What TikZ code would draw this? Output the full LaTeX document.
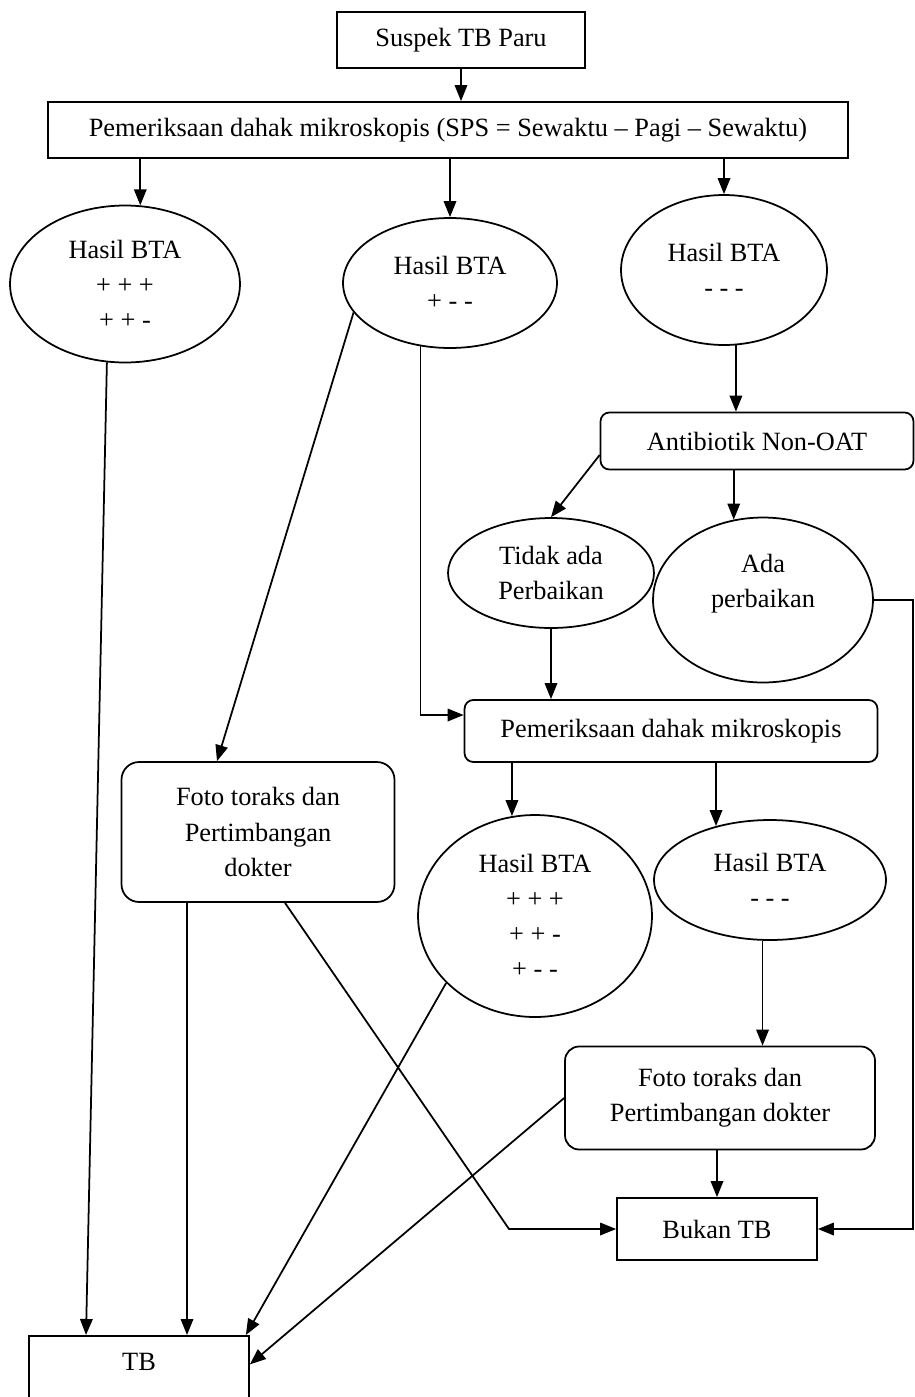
\documentclass[tikz,border=0pt]{standalone}
\usepackage{fontspec}
\setmainfont{Liberation Serif}
\usetikzlibrary{shapes.geometric,arrows.meta,positioning}

\begin{document}
\begin{tikzpicture}[x=0.02cm,y=-0.02cm,
  font=\fontsize{15}{20}\selectfont,
  box/.style={draw,line width=1pt,align=center,inner sep=0pt},
  rbox/.style={box,rounded corners=5pt},
  oval/.style={draw,line width=1pt,ellipse,align=center,inner sep=0pt},
  arr/.style={line width=1pt,-{Triangle[length=0.32cm,width=0.25cm]}}]
  \useasboundingbox (0,0) rectangle (915,1397);

  \node[box,minimum width=4.96cm,minimum height=1.12cm] (susp) at (461,40) {Suspek TB Paru};
  \node[box,minimum width=16cm,minimum height=1.12cm] (sps) at (448,130)
    {Pemeriksaan dahak mikroskopis (SPS = Sewaktu -- Pagi -- Sewaktu)};

  \node[oval,minimum width=4.6cm,minimum height=3.14cm] (e1) at (125,284) {Hasil BTA\\+ + +\\+ + -};
  \node[oval,minimum width=4.28cm,minimum height=2.6cm] (e2) at (450,283) {Hasil BTA\\+ - -};
  \node[oval,minimum width=4.12cm,minimum height=3cm] (e3) at (724,270) {Hasil BTA\\- - -};

  \node[rbox,minimum width=6.26cm,minimum height=1.14cm] (abx) at (757,441) {Antibiotik Non-OAT};
  \node[oval,minimum width=4.12cm,minimum height=2.2cm] (tidak) at (551,573) {Tidak ada\\Perbaikan};
  \node[oval,minimum width=4.4cm,minimum height=3.3cm] (ada) at (763,600) {};
  \node[align=center] (adatxt) at (763,584) {Ada\\perbaikan};

  \node[rbox,minimum width=8.26cm,minimum height=1.24cm] (sps2) at (671,731) {Pemeriksaan dahak mikroskopis};
  \node[box,rounded corners=10pt,minimum width=5.46cm,minimum height=2.8cm] (foto1) at (258,832)
    {Foto toraks dan\\Pertimbangan\\dokter};
  \node[oval,minimum width=4.68cm,minimum height=4.04cm] (e4) at (535,916) {Hasil BTA\\+ + +\\+ + -\\+ - -};
  \node[oval,minimum width=4.64cm,minimum height=2.4cm] (e5) at (770,880) {Hasil BTA\\- - -};
  \node[box,rounded corners=8pt,minimum width=6.2cm,minimum height=2.06cm] (foto2) at (720,1098)
    {Foto toraks dan\\Pertimbangan dokter};

  \node[box,minimum width=4cm,minimum height=1.24cm] (bukan) at (717,1229) {Bukan TB};
  \node[box,minimum width=4.4cm,minimum height=1.5cm,anchor=north] (tb) at (139,1335) {};
  \node (tbtxt) at (139,1362) {TB};

  \coordinate (railtop) at (913,600);
  \coordinate (railbot) at (913,1229);
  \coordinate (kink) at (509,1229);

  \draw[arr] (susp) -- (susp |- sps.north);
  \draw[arr] (sps.south -| e1.79) -- (e1.79);
  \draw[arr] (sps.south -| e2.north) -- (e2.north);
  \draw[arr] (sps.south -| e3.north) -- (e3.north);

  \draw[arr] (e3.-81) -- (e3.-81 |- abx.north);
  \draw[arr] ([yshift=-0.28cm]abx.west) -- (tidak.north);
  \draw[arr] (abx.south -| ada.110) -- (ada.110);
  \draw[arr] (ada.east) -- (railtop) -- (railbot) -- (bukan.east);

  \draw[arr] (tidak.south) -- (tidak.south |- sps2.north);
  \draw[arr] (e2.-115) |- ([yshift=0.32cm]sps2.west);
  \draw[arr] (e2.197) -- ([xshift=-0.82cm]foto1.north);

  \draw[arr] (sps2.south -| e4.103) -- (e4.103);
  \draw[arr] (sps2.south -| e5.135) -- (e5.135);
  \draw[arr] (e5.-97) -- (e5.-97 |- foto2.north);
  \draw[arr] (bukan.north |- foto2.south) -- (bukan.north);

  \draw[arr] ([xshift=0.54cm]foto1.south) -- (kink) -- (bukan.west);
  \draw[arr] (e1.-103) -- ([xshift=-1.06cm]tb.north);
  \draw[arr] ([xshift=-1.42cm]foto1.south) coordinate (f1b) -- (f1b |- tb.north);
  \draw[arr] (e4.217) -- ([xshift=-0.08cm]tb.north east);
  \draw[arr] (foto2.west) -- ([yshift=0.18cm]tb.east);
\end{tikzpicture}
\end{document}
